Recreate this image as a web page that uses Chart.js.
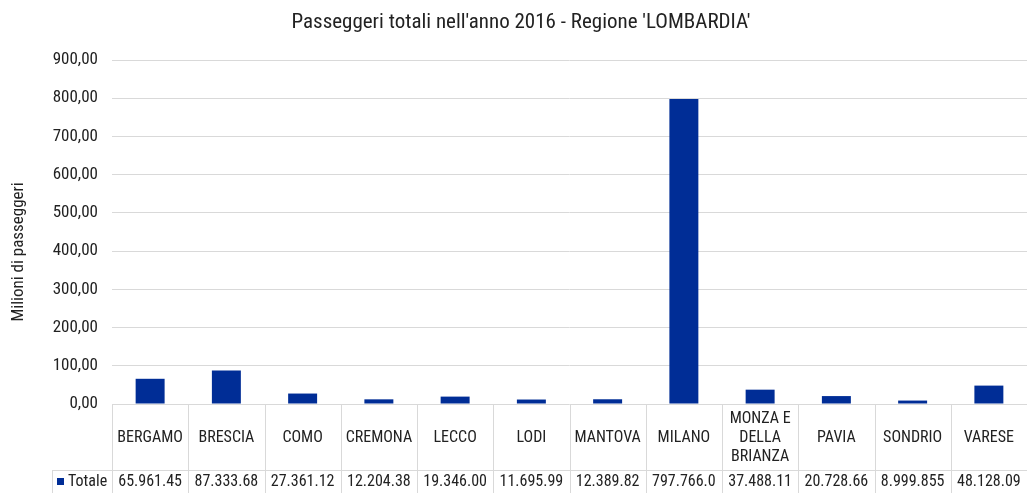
<!DOCTYPE html>
<html>
<head>
<meta charset="utf-8">
<script src="https://cdn.jsdelivr.net/npm/chart.js@4"></script>
<style>
  html, body { margin: 0; padding: 0; background: #fff; }
  #wrap { width: 1027px; height: 493px; }
</style>
</head>
<body>
<div id="wrap"><canvas id="chart" width="1027" height="493"></canvas></div>
<script>
// data (milioni di passeggeri)
const categories = ['BERGAMO', 'BRESCIA', 'COMO', 'CREMONA', 'LECCO', 'LODI', 'MANTOVA', 'MILANO',
    ['MONZA E', 'DELLA', 'BRIANZA'], 'PAVIA', 'SONDRIO', 'VARESE'];
const totale = [65.96, 87.33, 27.36, 12.20, 19.35, 11.70, 12.39, 797.77, 37.49, 20.73, 9.00, 48.13];
// values as they appear (cut off) in the data table
const tableValues = ['65.961.45', '87.333.68', '27.361.12', '12.204.38', '19.346.00', '11.695.99',
    '12.389.82', '797.766.0', '37.488.11', '20.728.66', '8.999.855', '48.128.09'];
const seriesName = 'Totale';
const titleText = "Passeggeri totali nell'anno 2016 - Regione 'LOMBARDIA'";
const yTitle = 'Milioni di passeggeri';

const FONT = "'Liberation Sans Narrow', 'Roboto Condensed', 'Arial Narrow', Roboto, sans-serif";
const BAR = '#002D96';
const GRID = '#d9d9d9';
const TEXT = '#222';

// draws the titles and the excel-like data table under the axis
const tablePlugin = {
    id: 'dataTable',
    afterDraw(chart) {
        const ctx = chart.ctx;
        const area = chart.chartArea;
        const x = chart.scales.x;
        const n = categories.length;
        const colW = (area.right - area.left) / n;
        const top = area.bottom;
        const rowY = top + 66;
        const bottom = chart.height;
        const legendLeft = 52;

        ctx.save();
        // title
        ctx.fillStyle = TEXT;
        ctx.font = '21px ' + FONT;
        ctx.textAlign = 'center';
        ctx.textBaseline = 'middle';
        ctx.fillText(titleText, 521, 23);

        // y axis title
        ctx.save();
        ctx.translate(19, 252);
        ctx.rotate(-Math.PI / 2);
        ctx.font = '17px ' + FONT;
        ctx.fillText(yTitle, 0, 0);
        ctx.restore();

        // grid lines of table
        ctx.strokeStyle = GRID;
        ctx.lineWidth = 1;
        ctx.beginPath();
        for (let i = 0; i <= n; i++) {
            const lx = Math.round(area.left + i * colW) + 0.5;
            ctx.moveTo(lx, top);
            ctx.lineTo(lx, bottom);
        }
        ctx.moveTo(legendLeft + 0.5, rowY);
        ctx.lineTo(legendLeft + 0.5, bottom);
        ctx.moveTo(legendLeft, rowY + 0.5);
        ctx.lineTo(area.right, rowY + 0.5);
        ctx.stroke();

        // category labels
        ctx.font = '16px ' + FONT;
        ctx.fillStyle = TEXT;
        categories.forEach((c, i) => {
            const cx = x.getPixelForValue(i);
            const lines = Array.isArray(c) ? c : [c];
            const mid = top + 34;
            lines.forEach((l, j) => {
                ctx.fillText(l, cx, mid + (j - (lines.length - 1) / 2) * 19);
            });
            ctx.fillText(tableValues[i], cx, rowY + 12);
        });

        // legend key
        ctx.fillStyle = BAR;
        ctx.fillRect(57, rowY + 8, 7, 7);
        ctx.fillStyle = TEXT;
        ctx.textAlign = 'left';
        ctx.fillText(seriesName, 68, rowY + 12);
        ctx.restore();
    }
};

new Chart(document.getElementById('chart'), {
    type: 'bar',
    data: {
        labels: categories,
        datasets: [{
            label: seriesName,
            data: totale,
            backgroundColor: BAR,
            barPercentage: 0.38,
            categoryPercentage: 1
        }]
    },
    options: {
        responsive: false,
        animation: false,
        layout: { padding: { top: 60, bottom: 89, left: 0, right: 0 } },
        plugins: {
            legend: { display: false },
            title: { display: false },
            tooltip: { enabled: false }
        },
        scales: {
            x: { display: false },
            y: {
                min: 0,
                max: 900,
                afterFit: s => { s.width = 112; },
                ticks: {
                    stepSize: 100,
                    padding: 14,
                    color: TEXT,
                    font: { family: FONT, size: 17 },
                    callback: v => v.toFixed(2).replace('.', ',')
                },
                grid: { color: GRID, drawTicks: false },
                border: { display: false }
            }
        }
    },
    plugins: [tablePlugin]
});
</script>
</body>
</html>
